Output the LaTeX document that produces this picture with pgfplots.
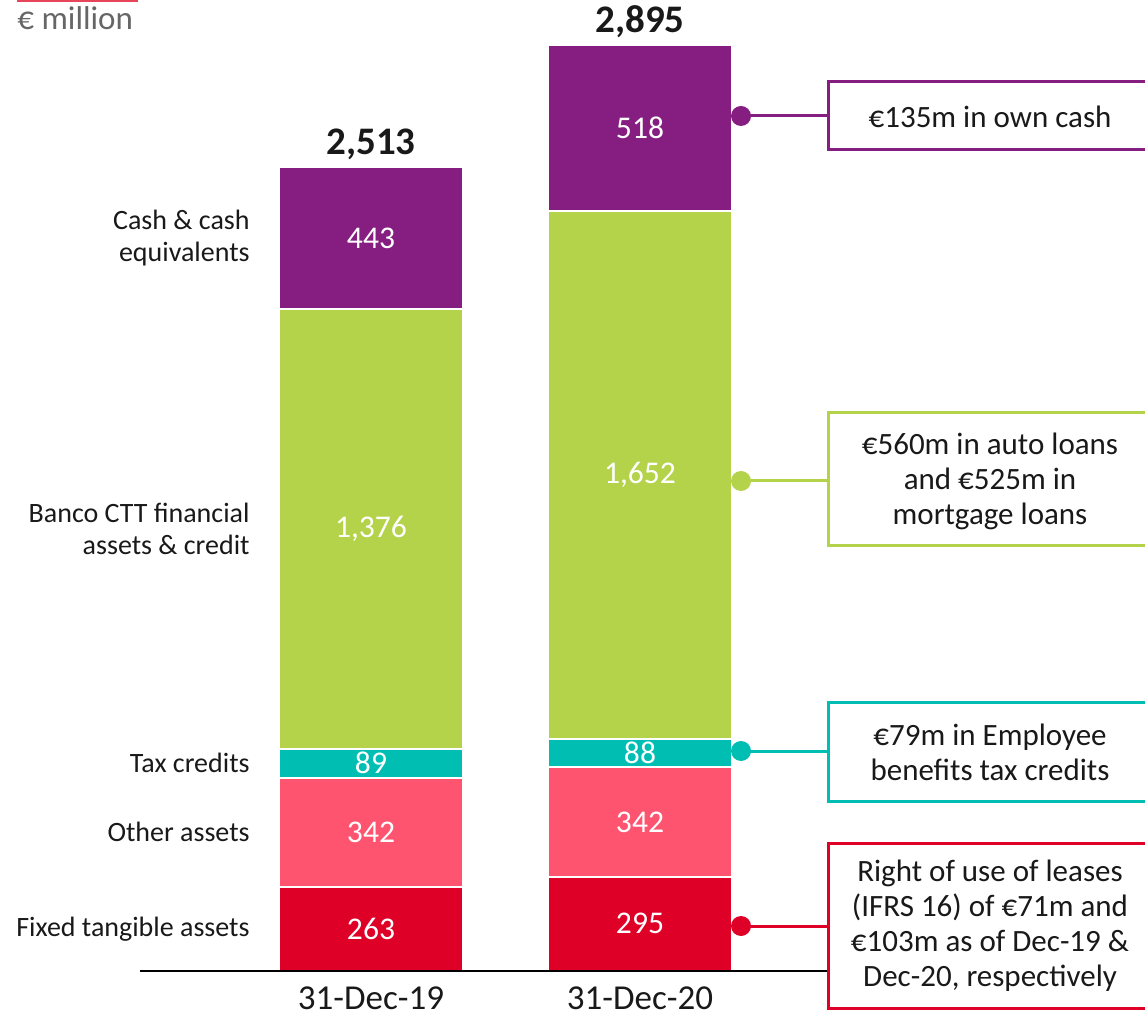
\documentclass[border=0pt]{standalone}
\usepackage{fontspec}
\setmainfont{Carlito}
\usepackage{pgfplots}
\usepackage{pgfplotstable}
\pgfplotsset{compat=1.18}
\definecolor{cpurple}{RGB}{133,30,128}
\definecolor{cgreen}{RGB}{180,211,74}
\definecolor{cteal}{RGB}{0,190,178}
\definecolor{cpink}{RGB}{255,84,112}
\definecolor{cred}{RGB}{222,0,38}
\definecolor{txt}{RGB}{25,25,25}
\definecolor{cgrey}{RGB}{102,102,102}
\definecolor{topred}{RGB}{232,68,90}

\pgfplotstableread{
x fixed other tax banco cash
371 263 342 89 1376 443
640 295 342 88 1652 518
}\assets

\begin{document}
\begin{tikzpicture}[x=0.5pt,y=0.5pt]
\path[use as bounding box] (0,0) rectangle (1145,1018);
\clip (0,0) rectangle (1145,1018);
\begin{axis}[at={(70pt,23.5pt)}, anchor=south west, scale only axis,
  width=344pt, height=485.5pt,
  xmin=140, xmax=828, ymin=0, ymax=3036,
  axis x line*=bottom, axis y line=none,
  x axis line style={-, line width=1pt, black},
  xtick={371,640}, xticklabels={31-Dec-19,31-Dec-20},
  major tick length=0pt,
  xticklabel style={anchor=base, yshift=-19pt, inner sep=0pt, font=\fontsize{17.5}{20}\selectfont, text=txt},
  ytick=\empty,
  ybar stacked, bar width=184,
  clip=false]
\addplot[fill=cred, draw=white, line width=1pt] table[x=x,y=fixed]{\assets};
\addplot[fill=cpink, draw=white, line width=1pt] table[x=x,y=other]{\assets};
\addplot[fill=cteal, draw=white, line width=1pt] table[x=x,y=tax]{\assets};
\addplot[fill=cgreen, draw=white, line width=1pt] table[x=x,y=banco]{\assets};
\addplot[fill=cpurple, draw=white, line width=1pt] table[x=x,y=cash]{\assets};

\coordinate (a1) at (axis cs:371,131.5);
\coordinate (a2) at (axis cs:371,434);
\coordinate (a3) at (axis cs:371,649.5);
\coordinate (a4) at (axis cs:371,1382);
\coordinate (a5) at (axis cs:371,2291.5);
\coordinate (b1) at (axis cs:640,147.5);
\coordinate (b2) at (axis cs:640,466);
\coordinate (b3) at (axis cs:640,681);
\coordinate (b4) at (axis cs:640,1551);
\coordinate (b5) at (axis cs:640,2636);

\node[anchor=base, yshift=6.5pt, text=txt, font=\bfseries\fontsize{19.5}{22}\selectfont] at (axis cs:371,2513) {2,513};
\node[anchor=base, yshift=6.5pt, text=txt, font=\bfseries\fontsize{19.5}{22}\selectfont] at (axis cs:640,2895) {2,895};

\node[anchor=east, align=right, inner sep=0pt, text=txt, font=\fontsize{14}{16}\selectfont] at (axis cs:250,2291.5) {Cash \& cash\\equivalents};
\node[anchor=east, align=right, inner sep=0pt, text=txt, font=\fontsize{14}{16}\selectfont] at (axis cs:250,1382) {Banco CTT financial\\assets \& credit};
\node[anchor=east, align=right, inner sep=0pt, text=txt, font=\fontsize{14}{16}\selectfont] at (axis cs:250,649.5) {Tax credits};
\node[anchor=east, align=right, inner sep=0pt, text=txt, font=\fontsize{14}{16}\selectfont] at (axis cs:250,434) {Other assets};
\node[anchor=east, align=right, inner sep=0pt, text=txt, font=\fontsize{14}{16}\selectfont] at (axis cs:250,131.5) {Fixed tangible assets};
\end{axis}

\draw[black, line width=1pt] (140,47) -- (828,47);

\foreach \c/\v in {a1/263,a2/342,a3/89,a4/{1,376},a5/443,b1/295,b2/342,b3/88,b4/{1,652},b5/518}
  \node[text=white, font=\fontsize{15.8}{18}\selectfont, inner sep=0pt] at (\c) {\v};

% header
\draw[topred, line width=1.5pt] (17,1017) -- (138,1017);
\node[anchor=base west, inner sep=0pt, text=cgrey, font=\fontsize{16.5}{18}\selectfont] at (17,988) {€ million};

% callouts
\draw[cpurple, line width=1.5pt] (741,902) -- (828,902);
\fill[cpurple] (741,902) circle[radius=5pt];
\draw[cpurple, line width=1.5pt, fill=white] (828,868) rectangle (1160,936);
\draw[cgreen, line width=1.5pt] (741,537) -- (828,537);
\fill[cgreen] (741,537) circle[radius=5pt];
\draw[cgreen, line width=1.5pt, fill=white] (828,472) rectangle (1160,605);
\draw[cteal, line width=1.5pt] (741,267) -- (828,267);
\fill[cteal] (741,267) circle[radius=5pt];
\draw[cteal, line width=1.5pt, fill=white] (828,217) rectangle (1160,316);
\draw[cred, line width=1.5pt] (741,92) -- (828,92);
\fill[cred] (741,92) circle[radius=5pt];
\draw[cred, line width=1.5pt, fill=white] (828,10) rectangle (1160,175);

\node[align=center, inner sep=0pt, text=txt, font=\fontsize{15.5}{17.5}\selectfont] at (990,901) {€135m in own cash};
\node[align=center, inner sep=0pt, text=txt, font=\fontsize{15.5}{17.5}\selectfont] at (990,537) {€560m in auto loans\\and €525m in\\mortgage loans};
\node[align=center, inner sep=0pt, text=txt, font=\fontsize{15.5}{17.5}\selectfont] at (990,266) {€79m in Employee\\benefits tax credits};
\node[align=center, inner sep=0pt, text=txt, font=\fontsize{15.5}{17.5}\selectfont] at (990,92) {Right of use of leases\\(IFRS 16) of €71m and\\€103m as of Dec-19 \&\\Dec-20, respectively};
\end{tikzpicture}
\end{document}
